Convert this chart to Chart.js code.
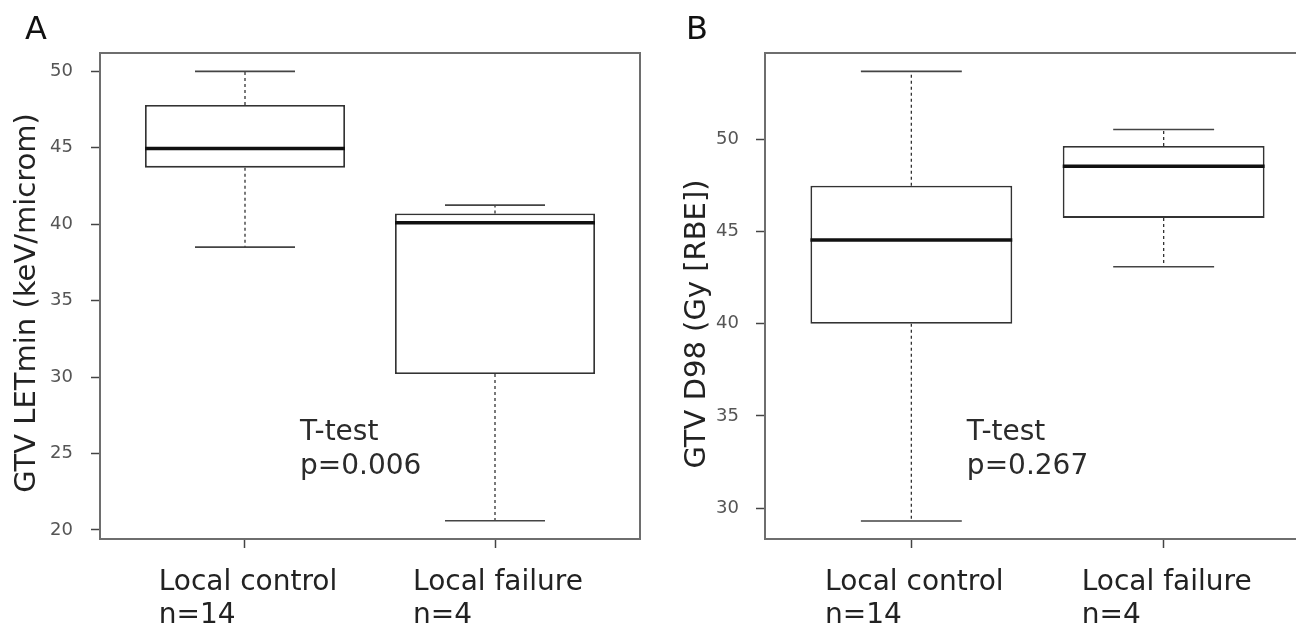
<!DOCTYPE html>
<html>
<head>
<meta charset="utf-8">
<script src="https://cdn.jsdelivr.net/npm/chart.js@4"></script>
<style>
  html, body { margin: 0; padding: 0; background: #fff; overflow: hidden; }
  #wrap { position: relative; width: 1296px; height: 627px; overflow: hidden; }
  #letChart { position: absolute; left: 0; top: 0; }
  #d98Chart { position: absolute; left: 650px; top: 0; }
</style>
</head>
<body>
<div id="wrap">
  <canvas id="letChart" width="650" height="627"></canvas>
  <canvas id="d98Chart" width="670" height="627"></canvas>
</div>
<script>
// groups
const groups = ['Local control', 'Local failure'];
const groupN = ['n=14', 'n=4'];

// GTV LETmin box stats (keV/microm)
const letLow = [38.5, 20.6];
const letQ1 = [43.7, 30.2];
const letMed = [44.95, 40.1];
const letQ3 = [47.8, 40.7];
const letHigh = [50.0, 41.25];
const letTicks = [20, 25, 30, 35, 40, 45, 50];
const letNote = ['T-test', 'p=0.006'];

// GTV D98 box stats (Gy [RBE])
const d98Low = [29.3, 43.1];
const d98Q1 = [40.0, 45.75];
const d98Med = [44.55, 48.55];
const d98Q3 = [47.5, 49.65];
const d98High = [53.7, 50.55];
const d98Ticks = [30, 35, 40, 45, 50];
const d98Note = ['T-test', 'p=0.267'];

const FONT = "'DejaVu Sans', Verdana, sans-serif";

// whiskers, medians, frame and text on top of the floating bars
const boxPlugin = {
  id: 'boxExtras',
  afterDatasetsDraw(chart) {
    const c = chart.options.plugins.boxExtras;
    const {ctx, chartArea: a, scales: {x, y}} = chart;
    ctx.save();
    ctx.beginPath();
    ctx.rect(a.left, a.top, a.right - a.left, a.bottom - a.top);
    ctx.clip();
    groups.forEach((g, i) => {
      const cx = x.getPixelForValue(i);
      // dashed stems
      ctx.strokeStyle = '#333';
      ctx.lineWidth = 1.3;
      ctx.setLineDash([3, 3]);
      ctx.beginPath();
      ctx.moveTo(cx, y.getPixelForValue(c.q3[i]));
      ctx.lineTo(cx, y.getPixelForValue(c.high[i]));
      ctx.moveTo(cx, y.getPixelForValue(c.q1[i]));
      ctx.lineTo(cx, y.getPixelForValue(c.low[i]));
      ctx.stroke();
      ctx.setLineDash([]);
      // caps, half the box width
      const capL = x.getPixelForValue(i - 0.2), capR = x.getPixelForValue(i + 0.2);
      ctx.strokeStyle = '#444';
      ctx.lineWidth = 1.6;
      ctx.beginPath();
      [c.high[i], c.low[i]].forEach(v => {
        const py = y.getPixelForValue(v);
        ctx.moveTo(capL, py);
        ctx.lineTo(capR, py);
      });
      ctx.stroke();
      // median
      const py = y.getPixelForValue(c.med[i]);
      ctx.strokeStyle = '#111';
      ctx.lineWidth = 3.5;
      ctx.beginPath();
      ctx.moveTo(x.getPixelForValue(i - 0.4), py);
      ctx.lineTo(x.getPixelForValue(i + 0.4), py);
      ctx.stroke();
    });
    ctx.restore();

    ctx.save();
    // plot frame
    ctx.strokeStyle = '#6e6e6e';
    ctx.lineWidth = 2;
    ctx.strokeRect(a.left, a.top, a.right - a.left, a.bottom - a.top);

    // t-test note
    ctx.fillStyle = '#2b2b2b';
    ctx.font = '28px ' + FONT;
    ctx.textAlign = 'left';
    ctx.textBaseline = 'alphabetic';
    const nx = x.getPixelForValue(c.noteAt.x), ny = y.getPixelForValue(c.noteAt.y);
    c.note.forEach((t, k) => ctx.fillText(t, nx, ny + k * 34));

    // group labels, left aligned block centred under each tick
    ctx.fillStyle = '#222';
    ctx.font = '28px ' + FONT;
    groups.forEach((g, i) => {
      const w = Math.max(ctx.measureText(g).width, ctx.measureText(groupN[i]).width);
      const lx = x.getPixelForValue(i) - w / 2 + 3;
      ctx.fillText(g, lx, a.bottom + 51);
      ctx.fillText(groupN[i], lx, a.bottom + 84);
    });

    // axis title
    ctx.save();
    ctx.translate(c.titleX, c.titleY);
    ctx.rotate(-Math.PI / 2);
    ctx.textAlign = 'center';
    ctx.textBaseline = 'middle';
    ctx.font = '29px ' + FONT;
    ctx.fillStyle = '#222';
    ctx.fillText(c.title, 0, 0);
    ctx.restore();

    // panel letter
    ctx.font = '32px ' + FONT;
    ctx.fillStyle = '#111';
    ctx.fillText(c.letter, c.letterX, 39);
    ctx.restore();
  }
};

function makeBoxChart(id, p) {
  return new Chart(document.getElementById(id), {
    type: 'bar',
    data: {
      datasets: [{
        data: groups.map((g, i) => ({x: i, y: [p.q1[i], p.q3[i]]})),
        backgroundColor: '#fff',
        borderColor: '#333',
        borderWidth: 1.8,
        borderSkipped: false,
        barPercentage: 1,
        categoryPercentage: 0.8
      }]
    },
    options: {
      responsive: false,
      animation: false,
      layout: {padding: {left: 0, right: 10, top: 53, bottom: 0}},
      plugins: {
        legend: {display: false},
        tooltip: {enabled: false},
        boxExtras: p
      },
      scales: {
        x: {
          type: 'linear',
          min: -0.58,
          max: 1.58,
          offset: false,
          border: {display: false},
          grid: {offset: false, drawOnChartArea: false, tickLength: 9, tickColor: '#444', tickWidth: 1.5},
          ticks: {display: false},
          afterBuildTicks: s => { s.ticks = groups.map((g, i) => ({value: i})); },
          afterFit: s => { s.height = 88; }
        },
        y: {
          min: p.min,
          max: p.max,
          border: {display: false},
          grid: {drawOnChartArea: false, tickLength: 9, tickColor: '#444', tickWidth: 1.5},
          ticks: {padding: p.tickPad, color: '#555', font: {family: FONT, size: 18}},
          afterBuildTicks: s => { s.ticks = p.ticks.map(v => ({value: v})); },
          afterFit: s => { s.width = p.axisWidth; }
        }
      }
    },
    plugins: [boxPlugin]
  });
}

makeBoxChart('letChart', {
  low: letLow, q1: letQ1, med: letMed, q3: letQ3, high: letHigh,
  ticks: letTicks, min: 19.41, max: 51.2,
  note: letNote, noteAt: {x: 0.22, y: 25.9},
  title: 'GTV LETmin (keV/microm)', titleX: 27, titleY: 303,
  letter: 'A', letterX: 25, axisWidth: 100, tickPad: 18
});

makeBoxChart('d98Chart', {
  low: d98Low, q1: d98Q1, med: d98Med, q3: d98Q3, high: d98High,
  ticks: d98Ticks, min: 28.32, max: 54.7,
  note: d98Note, noteAt: {x: 0.22, y: 33.7},
  title: 'GTV D98 (Gy [RBE])', titleX: 47, titleY: 324,
  letter: 'B', letterX: 36, axisWidth: 115, tickPad: 17
});
</script>
</body>
</html>
